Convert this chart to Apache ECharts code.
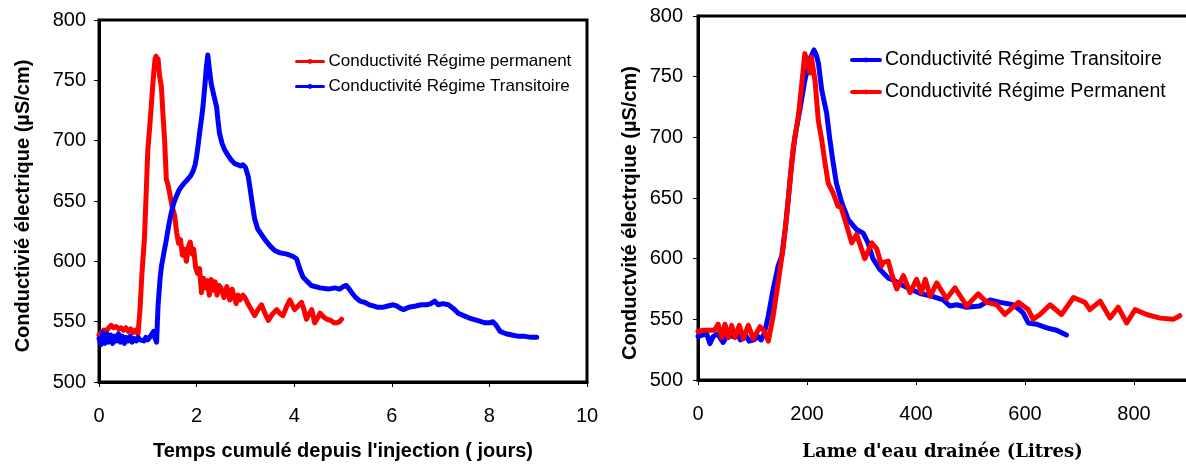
<!DOCTYPE html>
<html>
<head>
<meta charset="utf-8">
<script src="https://cdn.jsdelivr.net/npm/echarts@6/dist/echarts.min.js"></script>
<style>
html,body{margin:0;padding:0;background:#fff;overflow:hidden;width:1186px;height:466px;}
#c{width:1300px;height:466px;}
</style>
</head>
<body>
<div id="c"></div>
<script>
// ---- Left chart: conductivity vs cumulative time (days) ----
const perm1X = [0,0.05,0.1,0.15,0.2,0.25,0.3,0.35,0.4,0.45,0.5,0.55,0.6,0.65,0.7,0.75,0.8,0.84,0.88,0.93,0.97,1.0,1.04,1.07,1.1,1.13,1.15,1.17,1.19,1.21,1.24,1.28,1.31,1.345,1.38,1.41,1.45,1.5,1.55,1.59,1.63,1.67,1.71,1.75,1.79,1.83,1.87,1.91,1.94,1.98,2.02,2.06,2.1,2.14,2.18,2.22,2.26,2.3,2.34,2.38,2.42,2.46,2.5,2.56,2.62,2.68,2.73,2.77,2.81,2.85,2.89,2.95,2.99,3.05,3.12,3.19,3.26,3.33,3.40,3.47,3.55,3.64,3.70,3.77,3.84,3.91,3.96,4.01,4.08,4.15,4.20,4.25,4.30,4.36,4.42,4.48,4.53,4.60,4.67,4.75,4.82,4.87,4.93,4.97];
const perm1Y = [539,541,543,542,545,547,545,546,544,545,543,545,542,544,541,543,540,560,590,618,660,692,712,728,745,760,768,770,762,768,754,744,722,700,668,664,656,645,638,624,615,618,605,610,600,612,616,606,610,595,590,594,574,586,578,584,572,585,576,583,572,580,578,570,579,568,577,570,565,572,568,572,570,565,560,555,560,564,557,551,556,560,557,555,562,568,564,560,563,566,560,552,556,560,549,553,557,554,552,551,549,549,550,552];
const trans1X = [0,0.04,0.08,0.12,0.16,0.2,0.24,0.28,0.32,0.36,0.4,0.44,0.48,0.52,0.56,0.6,0.64,0.68,0.72,0.76,0.8,0.84,0.88,0.92,0.96,1.0,1.04,1.08,1.12,1.15,1.18,1.21,1.25,1.28,1.33,1.38,1.43,1.48,1.53,1.585,1.64,1.69,1.75,1.82,1.88,1.93,1.97,2.0,2.03,2.06,2.1,2.13,2.17,2.2,2.23,2.26,2.3,2.35,2.41,2.44,2.47,2.52,2.58,2.64,2.71,2.78,2.85,2.9,2.95,3.0,3.06,3.09,3.14,3.19,3.25,3.3,3.4,3.5,3.6,3.71,3.85,3.98,4.05,4.12,4.18,4.25,4.35,4.53,4.7,4.83,4.93,5.0,5.07,5.13,5.18,5.26,5.35,5.44,5.54,5.62,5.7,5.83,5.92,6.03,6.1,6.18,6.24,6.35,6.49,6.6,6.72,6.8,6.88,6.95,7.05,7.16,7.26,7.36,7.47,7.59,7.75,7.91,8.0,8.07,8.14,8.22,8.34,8.46,8.58,8.7,8.85,8.97];
const trans1Y = [536,531,541,532,540,533,539,532,538,534,540,533,538,532,537,534,538,533,536,534,537,535,536,534,537,535,537,538,542,536,533,563,585,596,607,618,630,640,648,654,659,662,665,668,671,675,680,687,696,706,718,728,746,761,771,760,747,738,728,716,706,698,692,688,684,681,680,679,680,678,670,662,648,635,627,624,618,613,609,607,606,604,602,593,587,584,580,578,577,578,577,579,580,577,574,570,567,566,564,563,562,562,563,564,563,561,560,562,563,564,564,565,567,564,565,564,561,557,555,553,551,549,549,550,547,542,540,539,538,538,537,537];

// ---- Right chart: conductivity vs drained water (litres) ----
const trans2X = [0,8,16,22,28,36,46,54,62,70,78,86,94,102,110,116,122,129,138,147,153.6,160,166,172,178,187,196,205.5,212.8,217,221,227,236,242,248,254,264,276,291,303,312,321,334,349,360,375,389,410,430,450,462,475,493,517,536,555,578,590,597,606,621,640,658,676];
const trans2Y = [536,537,538,530,536,538,531,537,536,539,533,538,532,533,536,533,539,553,575,594,602,624,651,679,701,723,747,765,772,768,761,739,720,698,679,662,646,632,624,621,613,600,591,584,582,578,575,571,569,566,561,562,560,561,566,564,562,558,555,547,546,543,541,537];
const perm2X = [0,10,20,30,37,43.5,49.5,55.7,61.8,67.9,75.8,83.1,92.3,101.5,113.8,122,129,138,147,156.5,162.7,169,175,184,190,196,199,205.5,208,214.7,220.7,227,233,239,248,257,262,273,282,291,300,306,318.7,328,337,340,349,355,364.6,377,389,401,410,417,426,438,456,471.6,493,514,530,548,563,588,606,615,627.5,646,667,689,710,719,738,756,771,786.6,802,823,848,872,884];
const perm2Y = [540,541,541,541,546,535,546,535,545,535,545,534,545,534,544,540,532,553,580,610,635,665,692,717,742,769,770,753,766,747,714,698,679,662,654,643,643,627,613,620,608,600,613,608,594,597,598,588,575,586,572,583,572,583,569,580,567,576,561,571,564,562,554,564,558,550,554,562,554,568,564,558,565,551,560,547,558,554,551,550,553];

const namePermLeft = 'Conductivité Régime permanent';
const nameTrans = 'Conductivité Régime Transitoire';
const namePermRight = 'Conductivité Régime Permanent';
const yTitleLeft = 'Conductivié électrique (µS/cm)';
const yTitleRight = 'Conductvité électrqiue (µS/cm)';
const xTitleLeft = "Temps cumulé depuis l'injection ( jours)";
const xTitleRight = "Lame d'eau drainée (Litres)";

function pairs(xs, ys) {
  const n = Math.min(xs.length, ys.length);
  const out = [];
  for (let i = 0; i < n; i++) out.push([xs[i], ys[i]]);
  return out;
}

const SANS = '"Liberation Sans", Arial, sans-serif';
const RED = '#ff0000', BLUE = '#0000ff';

function yAxisCfg(gi, title, gap, pad, margin) {
  return {
    type: 'value', gridIndex: gi, min: 500, max: 800, interval: 50,
    axisLine: {show: true, onZero: false, lineStyle: {color: '#000', width: 3}},
    axisTick: {show: true, length: 5, lineStyle: {color: '#000', width: 1}},
    axisLabel: {color: '#000', fontSize: 20, fontFamily: SANS, margin: margin},
    splitLine: {show: false},
    name: title, nameLocation: 'middle', nameGap: gap,
    nameTextStyle: {color: '#000', fontSize: 20, fontWeight: 'bold', fontFamily: SANS, padding: pad}
  };
}
function xAxisCfg(gi, max, interval, title, gap, font, size, pad) {
  return {
    type: 'value', gridIndex: gi, min: 0, max: max, interval: interval,
    axisLine: {show: true, onZero: false, lineStyle: {color: '#000', width: 3}},
    axisTick: {show: true, length: 5, lineStyle: {color: '#000', width: 1}},
    axisLabel: {color: '#000', fontSize: 20, fontFamily: SANS, margin: 24},
    splitLine: {show: false},
    name: title, nameLocation: 'middle', nameGap: gap,
    nameTextStyle: {color: '#000', fontSize: size, fontWeight: 'bold', fontFamily: font, padding: pad}
  };
}
function lineSeries(name, xi, data, color) {
  return {
    type: 'line', name: name, xAxisIndex: xi, yAxisIndex: xi, data: data,
    symbol: 'circle', symbolSize: 4, showSymbol: false,
    lineStyle: {color: color, width: 5, join: 'round', cap: 'round'},
    itemStyle: {color: color},
    animation: false, z: 2
  };
}

const chart = echarts.init(document.getElementById('c'), null, {renderer: 'canvas'});
chart.setOption({
  backgroundColor: '#fff',
  animation: false,
  grid: [
    {left: 99, top: 20, width: 488, height: 363, show: true, borderColor: '#000', borderWidth: 3, backgroundColor: 'transparent'},
    {left: 698, top: 16, width: 545, height: 365, show: true, borderColor: '#000', borderWidth: 3, backgroundColor: 'transparent'}
  ],
  xAxis: [
    xAxisCfg(0, 10, 2, xTitleLeft, 59, SANS, 20, [0, 0, 0, 0]),
    xAxisCfg(1, 1000, 200, xTitleRight, 63, '"DejaVu Serif", serif', 18, [0, 56, 0, 0])
  ],
  yAxis: [
    yAxisCfg(0, yTitleLeft, 66, [0, 10, 0, 0], 13),
    yAxisCfg(1, yTitleRight, 58, [0, 30, 0, 0], 15)
  ],
  legend: [
    {
      data: [namePermLeft, nameTrans], orient: 'vertical', left: 290, top: 48,
      itemWidth: 27, itemHeight: 6, itemGap: 8, selectedMode: false,
      lineStyle: {width: 3},
      textStyle: {color: '#000', fontSize: 17, fontFamily: SANS}
    },
    {
      data: [nameTrans, namePermRight], orient: 'vertical', left: 845, top: 45,
      itemWidth: 28, itemHeight: 6, itemGap: 12, selectedMode: false,
      lineStyle: {width: 4},
      textStyle: {color: '#000', fontSize: 19.5, fontFamily: SANS}
    }
  ],
  series: [
    lineSeries(namePermLeft, 0, pairs(perm1X, perm1Y), RED),
    lineSeries(nameTrans, 0, pairs(trans1X, trans1Y), BLUE),
    lineSeries(nameTrans, 1, pairs(trans2X, trans2Y), BLUE),
    lineSeries(namePermRight, 1, pairs(perm2X, perm2Y), RED)
  ]
});
</script>
</body>
</html>
